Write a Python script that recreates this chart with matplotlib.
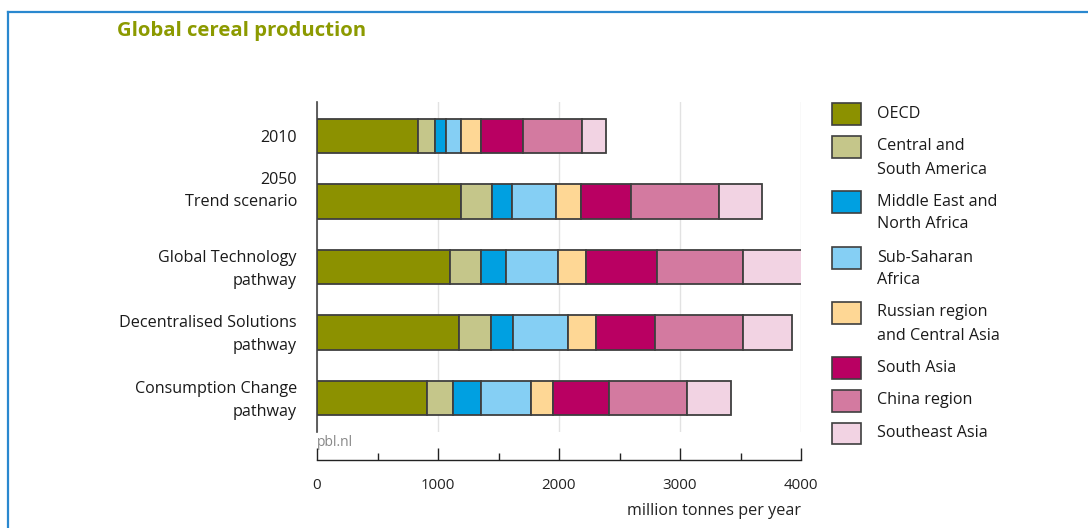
import matplotlib
matplotlib.use("Agg")
import matplotlib.pyplot as plt
from matplotlib.patches import Rectangle
from matplotlib.lines import Line2D
from matplotlib.transforms import ScaledTranslation
import numpy as np

plt.rcParams['font.family'] = ['Open Sans', 'DejaVu Sans']

categories = ["2010", "2050\nTrend scenario", "Global Technology\npathway",
              "Decentralised Solutions\npathway", "Consumption Change\npathway"]
regions = ["OECD", "Central and\nSouth America", "Middle East and\nNorth Africa",
           "Sub-Saharan\nAfrica", "Russian region\nand Central Asia", "South Asia",
           "China region", "Southeast Asia"]
oecd = [832, 1187, 1096, 1176, 906]
central_south_america = [143, 259, 257, 265, 221]
middle_east_north_africa = [94, 168, 206, 182, 226]
sub_saharan_africa = [121, 361, 430, 449, 413]
russian_central_asia = [168, 204, 234, 237, 187]
south_asia = [347, 417, 584, 487, 463]
china_region = [482, 724, 711, 722, 639]
southeast_asia = [201, 358, 487, 408, 366]
series = [oecd, central_south_america, middle_east_north_africa, sub_saharan_africa,
          russian_central_asia, south_asia, china_region, southeast_asia]
colors = ["#8c9100", "#c5c68a", "#00a0e1", "#85cff4", "#fed795", "#b90062",
          "#d37aa0", "#f2d3e3"]
xticks = [0, 1000, 2000, 3000, 4000]

W, H = 1088, 528
fig = plt.figure(figsize=(W / 100, H / 100), dpi=100)
FS = 11.6

def fx(px):
    return px / W

def fy(py):
    return 1 - py / H

# Frame
fig.add_artist(Line2D([fx(8), 1.0], [fy(12), fy(12)], color="#2a88cf", lw=1.6))
fig.add_artist(Line2D([fx(8), fx(8)], [fy(12), 0.0], color="#2a88cf", lw=1.6))

# Title
fig.text(fx(117), fy(31), "Global cereal production", color="#8c9a00",
         fontsize=14.7, fontweight="bold", va="center", ha="left")

# Main axes
ax = fig.add_axes([fx(317), fy(432), fx(801) - fx(317), fy(102) - fy(432)])
y = np.arange(len(categories))
left = np.zeros(len(categories))
for vals, c in zip(series, colors):
    ax.barh(y, vals, left=left, height=0.52, color=c, edgecolor="#3f3f3f",
            linewidth=1.3, zorder=3)
    left += np.array(vals)
ax.set_xlim(0, 4000)
ax.set_ylim(4.52, -0.52)
ax.set_xticks(xticks)
ax.grid(axis="x", color="#e2e2e2", lw=1.0, zorder=0)
ax.tick_params(axis="x", length=0, labelbottom=False)
ax.set_yticks(y)
ax.tick_params(axis="y", length=0, pad=14.4)
ax.set_yticklabels(categories, fontsize=FS, color="#1a1a1a", ha="right",
                   linespacing=1.55)
for i, lbl in enumerate(ax.get_yticklabels()):
    # the 2050 label sits with its second line at the bar centre
    dy = 16 if i == 1 else (0 if i == 0 else 3)
    lbl.set_transform(lbl.get_transform() + ScaledTranslation(0, dy / 100, fig.dpi_scale_trans))
for s in ["top", "right", "bottom"]:
    ax.spines[s].set_visible(False)
ax.spines["left"].set_color("#444444")
ax.spines["left"].set_linewidth(1.2)

# x-axis (separate)
ax2 = fig.add_axes([fx(317), fy(460), fx(801) - fx(317), 0.001])
ax2.set_xlim(0, 4000)
ax2.set_xticks(xticks)
ax2.set_xticks([500, 1500, 2500, 3500], minor=True)
ax2.set_yticks([])
for s in ["top", "right", "left"]:
    ax2.spines[s].set_visible(False)
ax2.spines["bottom"].set_color("#222222")
ax2.spines["bottom"].set_linewidth(1.0)
ax2.tick_params(axis="x", which="major", direction="in", length=9, width=1.0,
                pad=13, labelsize=10.8, colors="#222222")
ax2.tick_params(axis="x", which="minor", direction="in", length=5, width=1.0,
                colors="#222222")
ax2.patch.set_visible(False)

fig.text(fx(317), fy(443), "pbl.nl", color="#888888", fontsize=10, va="center", ha="left")
fig.text(fx(801), fy(511), "million tonnes per year", color="#222222", fontsize=FS,
         va="center", ha="right")

# Legend
patch_tops = [103, 136, 191, 247, 302, 357, 390, 422.5]
for name, c, top in zip(regions, colors, patch_tops):
    fig.add_artist(Rectangle((fx(832), fy(top + 21.5)), fx(29), 21.5 / H,
                             facecolor=c, edgecolor="#3f3f3f", lw=1.2))
    parts = name.split("\n")
    for i, part in enumerate(parts):
        fig.text(fx(877), fy(top + 10.5 + 23 * i), part, fontsize=FS,
                 color="#1a1a1a", va="center", ha="left")

fig.savefig("out.png", dpi=100)
